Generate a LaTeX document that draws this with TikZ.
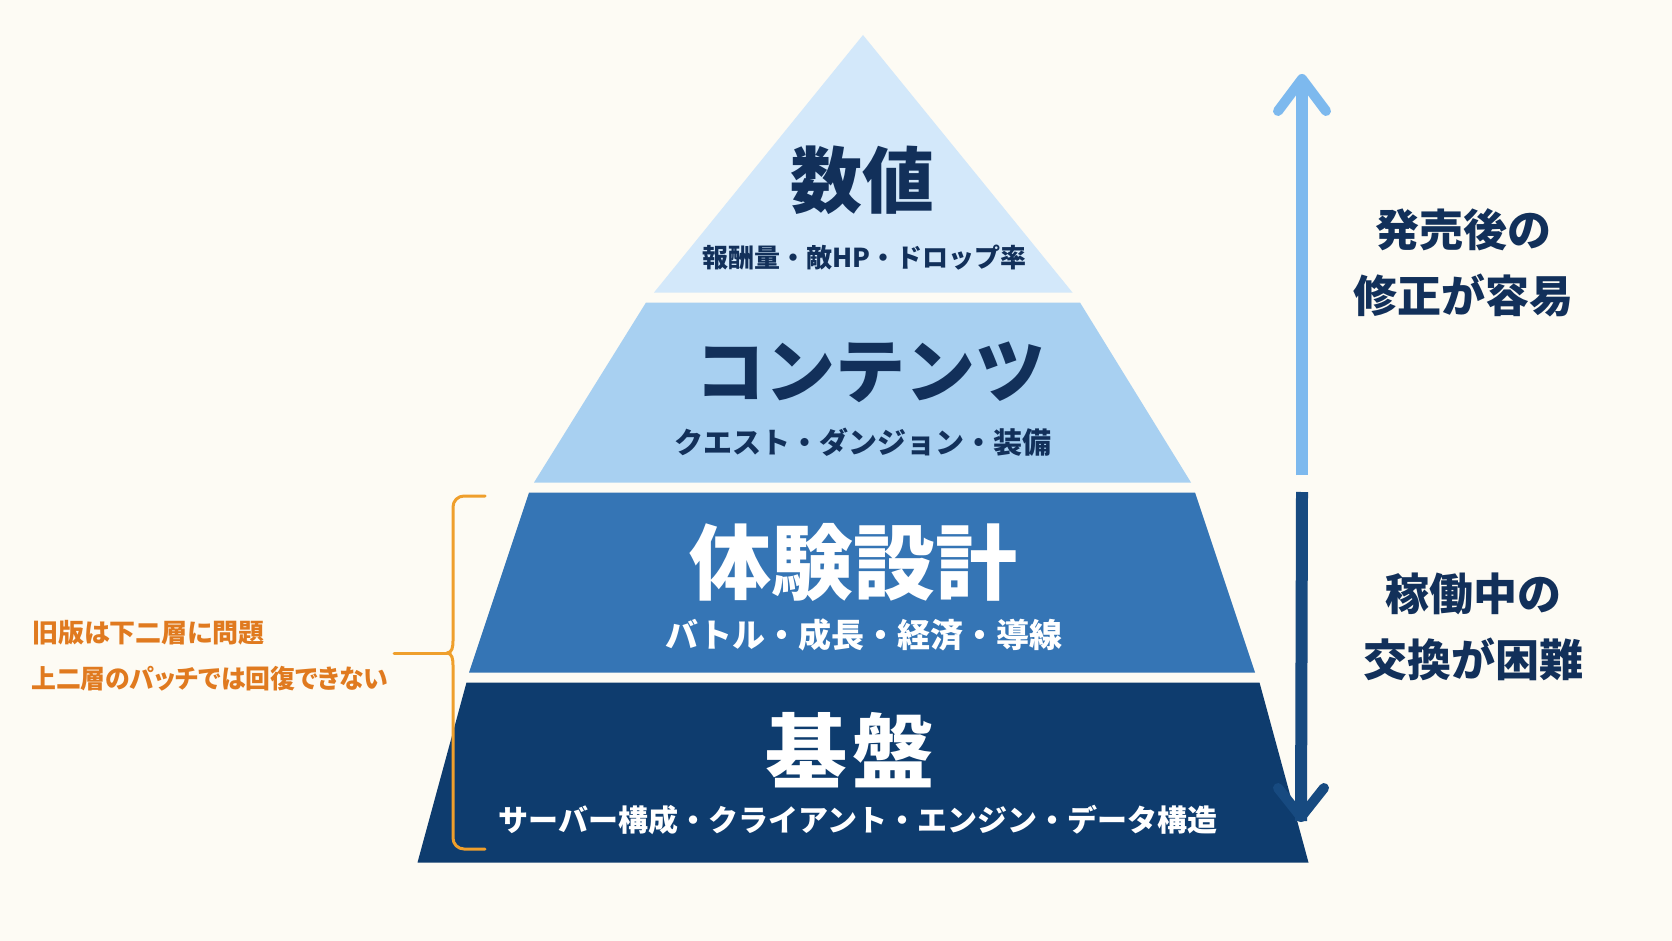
\documentclass[tikz,border=0pt]{standalone}
\usepackage{fontspec}
\newfontfamily\jp{Noto Sans CJK JP}
\newfontfamily\jpp{Noto Sans CJK JP}[RawFeature=+palt]
\definecolor{bg}{HTML}{FDFBF4}
\definecolor{tone}{HTML}{D3E8FA}
\definecolor{ttwo}{HTML}{A8D0F1}
\definecolor{tthree}{HTML}{3575B5}
\definecolor{tfour}{HTML}{0E3C6E}
\definecolor{navy}{HTML}{12305A}
\definecolor{lightarr}{HTML}{7DB9EE}
\definecolor{darkarr}{HTML}{174A80}
\definecolor{orangetext}{HTML}{E07A1F}
\definecolor{bracketcol}{HTML}{EF9F2C}
\begin{document}
\begin{tikzpicture}[x=1pt,y=-1pt,
  lbl/.style={inner sep=0pt, anchor=center},
  big/.style={lbl, font=\jp\bfseries\fontsize{#1}{#1}\selectfont},
  sub/.style={lbl, font=\jp\bfseries\fontsize{#1}{#1}\selectfont},
  side/.style={lbl, align=center, text=navy, font=\jp\bfseries\fontsize{44}{66}\selectfont},
  note/.style={inner sep=0pt, anchor=west, text=orangetext, font=\jpp\bfseries\fontsize{26}{26}\selectfont},
  bracket/.style={draw=bracketcol, line width=3pt, line cap=round, line join=round},
]
\useasboundingbox (0,0) rectangle (1672,941);
\fill[bg] (0,0) rectangle (1672,941);

% pyramid tiers
\fill[tone]   (863,35) -- (1072.5,292.5) -- (654,292.5) -- cycle;
\fill[ttwo]   (646,302.5) -- (1080,302.5) -- (1191,482.5) -- (534,482.5) -- cycle;
\fill[tthree] (529,492.5) -- (1195,492.5) -- (1255,672.5) -- (469,672.5) -- cycle;
\fill[tfour]  (466.5,682.5) -- (1259.5,682.5) -- (1308.5,862.5) -- (417.5,862.5) -- cycle;

% tier labels
\node[big=72, text=navy] (h1) at (862,180) {数値};
\node[sub=26, text=navy] (s1) at (864,258) {報酬量・敵HP・ドロップ率};
\node[big=70, text=navy] (h2) at (870,372) {コンテンツ};
\node[sub=29, text=navy] (s2) at (863,442) {クエスト・ダンジョン・装備};
\node[big=82, text=white] (h3) at (853,562) {体験設計};
\node[sub=33, text=white] (s3) at (864,635) {バトル・成長・経済・導線};
\node[big=82, text=white] (h4) at (850,750) {基\kern6pt 盤};
\node[sub=30, text=white] (s4) at (858,820) {サーバー構成・クライアント・エンジン・データ構造};

% side arrows
\coordinate (ubase) at (1302,475);
\coordinate (utip) at (1302,79);
\coordinate (dbase) at (1302,492);
\coordinate (dtip) at (1301,817);
\draw[lightarr, line width=12pt] (ubase) -- ([yshift=-4pt]utip);
\draw[lightarr, line width=10pt, line cap=round, line join=round] (1278,111) -- (utip) -- (1326,111);
\draw[darkarr, line width=12pt] (dbase) -- ([yshift=-4pt]dtip);
\draw[darkarr, line width=10pt, line cap=round, line join=round] (1278,788) -- (dtip) -- (1324,788);

\node[side] (easy) at (1463.5,263) {発売後の\\修正が容易};
\node[side] (hard) at (1473,627) {稼働中の\\交換が困難};

% bracket and note
\coordinate (bt) at (485,496);
\coordinate (bb) at (485,849);
\coordinate (cusp) at (447,653);
\coordinate (lineend) at (394,653);
\draw[bracket] (bt) -- (464,496) to[out=180,in=90] (453,507) -- (453,641)
  to[out=-90,in=0] (cusp) to[out=0,in=90] (453,665) -- (453,838)
  to[out=-90,in=180] (464,849) -- (bb);
\draw[bracket] (lineend) -- (cusp);
\node[note] (n1) at (32,633) {旧版は下二層に問題};
\node[note] (n2) at (31,679) {\scalebox{0.955}[1]{上二層のパッチでは回復できない}};
\end{tikzpicture}
\end{document}
